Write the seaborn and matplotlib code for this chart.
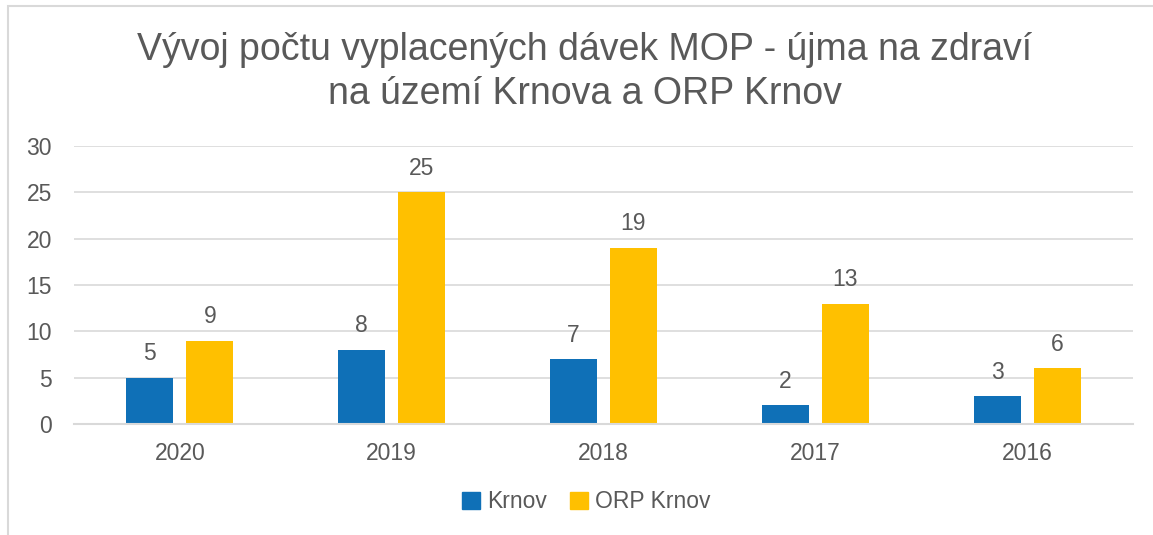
import pandas as pd
import matplotlib.pyplot as plt
import matplotlib.patches as mpatches
import seaborn as sns

sns.set_style("white")
plt.rcParams['font.family'] = ['Liberation Sans', 'DejaVu Sans']

# data
years = ['2020', '2019', '2018', '2017', '2016']
krnov = [5, 8, 7, 2, 3]
orp_krnov = [9, 25, 19, 13, 6]
series = ['Krnov', 'ORP Krnov']
colors = ['#0F70B7', '#FFC000']

df = pd.DataFrame({
    'rok': years * 2,
    'hodnota': krnov + orp_krnov,
    'serie': [series[0]] * len(years) + [series[1]] * len(years),
})

text_col = '#595959'
grid_col = '#D9D9D9'

fig = plt.figure(figsize=(11.53, 5.35), dpi=100)
ax = fig.add_axes([74 / 1153, 1 - 424 / 535, 1059 / 1153, 278 / 535])

sns.barplot(data=df, x='rok', y='hodnota', hue='serie', order=years,
            hue_order=series, palette=colors, width=0.566, gap=0.215,
            linewidth=0, saturation=1, ax=ax)

for cont in ax.containers:
    ax.bar_label(cont, padding=9, fontsize=16.5, color=text_col)

ax.set_ylim(0, 30)
ax.set_xlim(-0.5, 4.5)
ax.set_yticks(range(0, 31, 5))
ax.yaxis.grid(True, color=grid_col, linewidth=1.2)
ax.set_axisbelow(True)
for s in ['top', 'right', 'left']:
    ax.spines[s].set_visible(False)
ax.spines['bottom'].set_color(grid_col)
ax.spines['bottom'].set_linewidth(1.5)
ax.tick_params(axis='both', length=0, labelsize=16.5, labelcolor=text_col)
ax.tick_params(axis='y', pad=16)
ax.tick_params(axis='x', pad=13)
ax.set_xlabel('')
ax.set_ylabel('')

ax.get_legend().remove()
handles = [mpatches.Patch(color=c, label=l) for c, l in zip(colors, series)]
fig.legend(handles=handles, loc='center', bbox_to_anchor=(586 / 1153, 1 - 502 / 535),
           ncol=2, frameon=False, fontsize=16.5, labelcolor=text_col,
           handlelength=0.8, handleheight=0.8, handletextpad=0.3, columnspacing=1.0)

fig.text(585 / 1153, 1 - 72 / 535,
         'Vývoj počtu vyplacených dávek MOP - újma na zdraví\nna území Krnova a ORP Krnov',
         ha='center', va='center', fontsize=27, color=text_col, linespacing=1.3)

# chart frame
fig.patches.append(mpatches.Rectangle((8 / 1153, -0.1), 1.2, 1.1 - 6 / 535,
                                      transform=fig.transFigure, fill=False,
                                      edgecolor=grid_col, linewidth=1.5))

fig.savefig('out.png', dpi=100, facecolor='white')
